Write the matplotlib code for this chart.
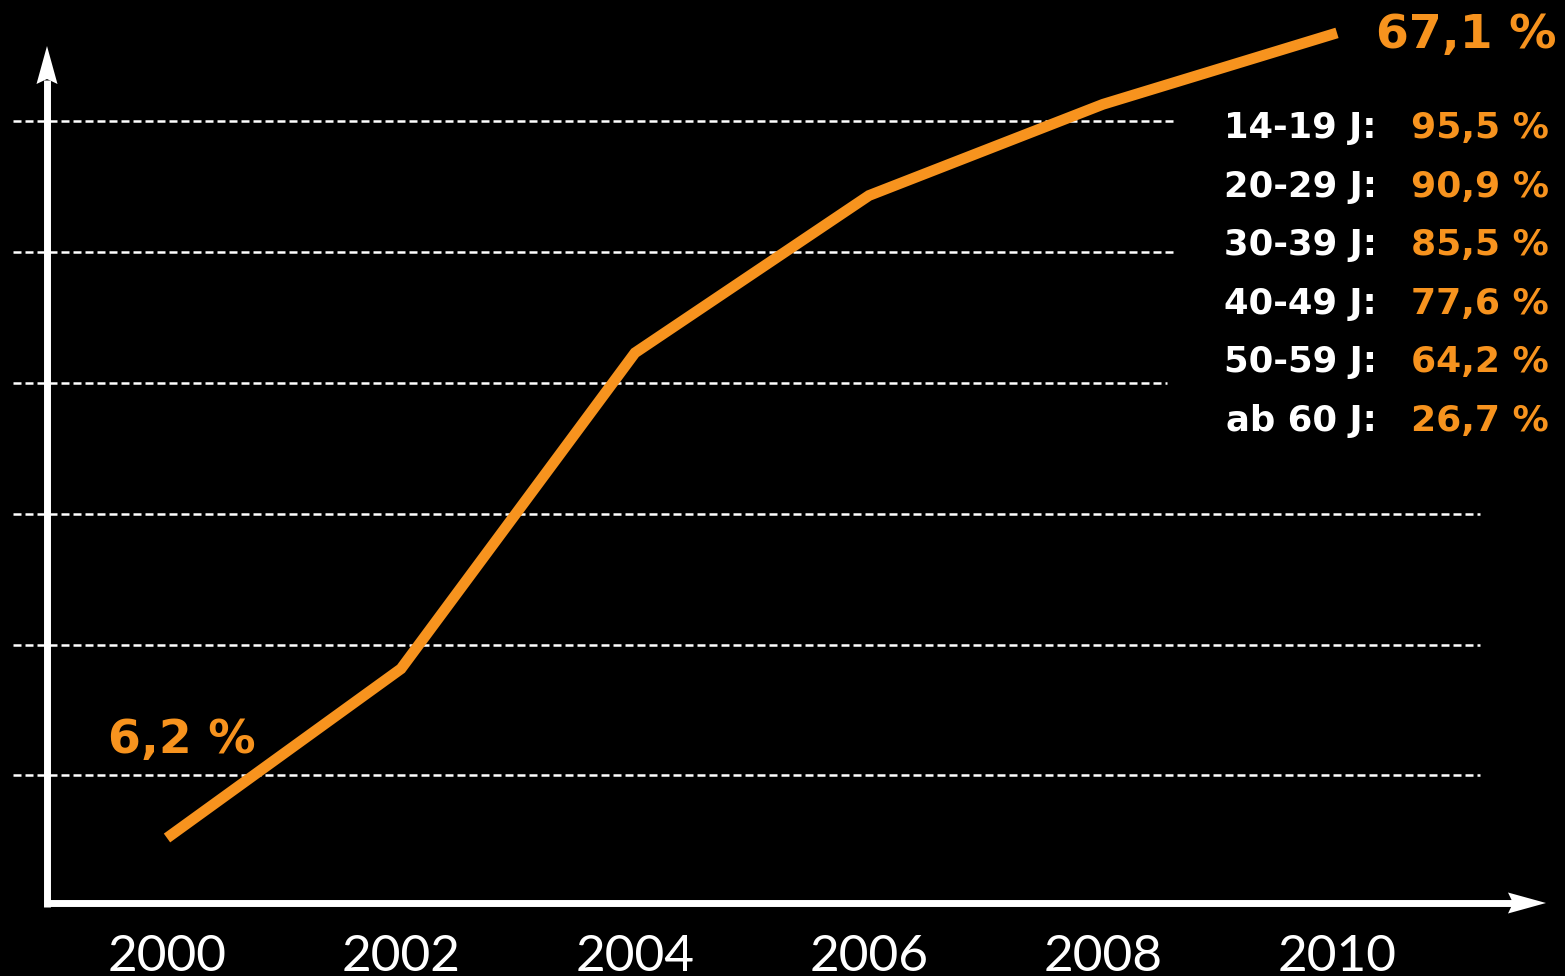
import matplotlib
matplotlib.use("Agg")
import matplotlib.pyplot as plt
from matplotlib.patches import Polygon
from matplotlib.lines import Line2D

# ---- data ----
years = [2000, 2002, 2004, 2006, 2008, 2010]
share = [6.2, 19.0, 42.9, 54.8, 61.7, 67.1]
year_labels = ["2000", "2002", "2004", "2006", "2008", "2010"]
grid_levels = [11.0, 20.8, 30.7, 40.6, 50.5, 60.4]
age_groups = ["14-19 J:", "20-29 J:", "30-39 J:", "40-49 J:", "50-59 J:", "ab 60 J:"]
age_values = ["95,5 %", "90,9 %", "85,5 %", "77,6 %", "64,2 %", "26,7 %"]
start_label = "6,2 %"
end_label = "67,1 %"

ORANGE = "#F7931E"
W, H = 1565, 976
fig = plt.figure(figsize=(W / 100, H / 100), dpi=100, facecolor="black")

# data axes (full figure)
PXY = 117.0          # px per year
X0PX = 167.0         # pixel x of year 2000
PXV = 13.22          # px per percent
Y0PX = 838.0         # pixel y (from top) of value 6.2
ax = fig.add_axes([0, 0, 1, 1])
ax.set_facecolor("black")
ax.set_xlim(2000 - X0PX / PXY, 2000 + (W - X0PX) / PXY)
ax.set_ylim(6.2 - (H - Y0PX) / PXV, 6.2 + Y0PX / PXV)
ax.axis("off")

def px2x(px):
    return 2000 + (px - X0PX) / PXY

def py2v(py):
    return 6.2 + (Y0PX - py) / PXV

# gridlines
grid_ends = [1480, 1480, 1480, 1167, 1175, 1175]
for lvl, xe in zip(grid_levels, grid_ends):
    ax.plot([px2x(13), px2x(xe)], [lvl, lvl], color="white", lw=1.8,
            linestyle=(0, (3.2, 1.6)), zorder=1)

# main line
ax.plot(years, share, color=ORANGE, lw=7.8, solid_joinstyle="miter",
        solid_capstyle="butt", zorder=3)

# year tick labels
for yr, lab in zip(years, year_labels):
    ax.text(yr, py2v(971), lab, color="white", fontsize=37, family="Lato",
            ha="center", va="baseline", zorder=4)

# overlay pixel axes for arrows and annotations
ov = fig.add_axes([0, 0, 1, 1])
ov.set_xlim(0, W)
ov.set_ylim(H, 0)
ov.axis("off")
ov.patch.set_alpha(0)

lw_ax = 5.0
ov.add_line(Line2D([47, 47], [906.5, 80], color="white", lw=lw_ax, solid_capstyle="butt"))
ov.add_line(Line2D([43.5, 1515], [903, 903], color="white", lw=lw_ax, solid_capstyle="butt"))
ov.add_patch(Polygon([[47, 46], [36.5, 84], [47, 79], [57.5, 84]], closed=True,
                     facecolor="white", edgecolor="none"))
ov.add_patch(Polygon([[1546, 903], [1508, 892.5], [1513, 903], [1508, 913.5]], closed=True,
                     facecolor="white", edgecolor="none"))

# value annotations
ov.text(1557, 48, end_label, color=ORANGE, fontsize=34, fontweight="bold",
        family="DejaVu Sans", ha="right", va="baseline")
ov.text(108, 753, start_label, color=ORANGE, fontsize=34, fontweight="bold",
        family="DejaVu Sans", ha="left", va="baseline")

row_base = 138.0
row_step = 58.6
for i, (g, v) in enumerate(zip(age_groups, age_values)):
    yb = row_base + i * row_step
    ov.text(1377, yb, g, color="white", fontsize=25.5, fontweight="bold",
            family="DejaVu Sans", ha="right", va="baseline")
    ov.text(1549, yb, v, color=ORANGE, fontsize=26, fontweight="bold",
            family="DejaVu Sans", ha="right", va="baseline")

fig.savefig("out.png", dpi=100, facecolor="black")
